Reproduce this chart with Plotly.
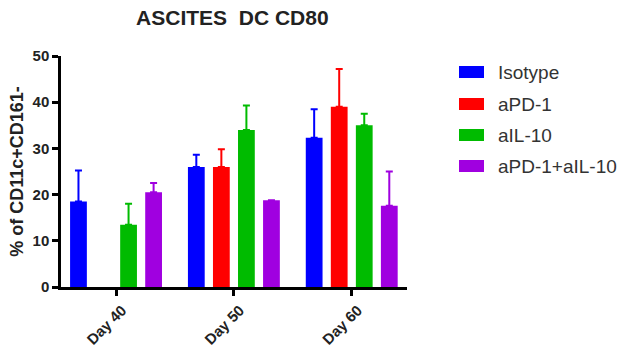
import plotly.graph_objects as go

days = ["Day 40", "Day 50", "Day 60"]
groups = ["Isotype", "aPD-1", "aIL-10", "aPD-1+aIL-10"]
colors = ["#0000FF", "#FF0000", "#00BB00", "#A000E0"]
means = {
    "Isotype": [18.5, 26.0, 32.3],
    "aPD-1": [None, 26.0, 39.0],
    "aIL-10": [13.5, 34.0, 35.0],
    "aPD-1+aIL-10": [20.5, 18.8, 17.6],
}
errors = {
    "Isotype": [6.7, 2.6, 6.2],
    "aPD-1": [0, 3.8, 8.2],
    "aIL-10": [4.5, 5.3, 2.5],
    "aPD-1+aIL-10": [2.0, 0, 7.4],
}

FONT = "Liberation Sans, Arial, sans-serif"

fig = go.Figure()
for g, c in zip(groups, colors):
    fig.add_trace(go.Bar(
        x=days, y=means[g], name=g, showlegend=False,
        marker=dict(color=c, line=dict(width=0)),
        error_y=dict(type="data", symmetric=False, array=errors[g],
                     arrayminus=[0, 0, 0], color=c, thickness=2, width=3.5),
    ))

# custom legend (wide swatches like the reference)
leg_rows_y = [0.9307, 0.7922, 0.6580, 0.5238]
shapes, annotations = [], []
for g, c, yy in zip(groups, colors, leg_rows_y):
    shapes.append(dict(type="rect", xref="paper", yref="paper",
                       x0=1.1503, x1=1.2225, y0=yy - 0.026, y1=yy + 0.026,
                       fillcolor=c, line=dict(width=0)))
    annotations.append(dict(text=g, xref="paper", yref="paper", x=1.258, y=yy,
                            xanchor="left", yanchor="middle", showarrow=False,
                            font=dict(family=FONT, size=19, color="#333")))

fig.update_layout(
    width=618, height=352,
    margin=dict(l=61, r=211, t=56, b=65, autoexpand=False),
    paper_bgcolor="white", plot_bgcolor="white",
    barmode="group", bargap=0.15, bargroupgap=0.33,
    title=dict(text="<b>ASCITES&nbsp; DC CD80</b>", x=0.376, xanchor="center",
               y=0.949, yanchor="middle",
               font=dict(family=FONT, size=21, color="#222")),
    font=dict(family=FONT, color="#222"),
    shapes=shapes, annotations=annotations,
    showlegend=False,
)
fig.update_yaxes(range=[0, 50], dtick=10, showline=True, linecolor="black",
                 linewidth=2.5, ticks="outside", ticklen=6, tickwidth=2.5,
                 tickcolor="black", showgrid=False, zeroline=False, automargin=False,
                 tickfont=dict(size=15, family=FONT, color="#222", weight="bold"),
                 title=dict(text="<b>% of CD11c+CD161-</b>", standoff=5,
                            font=dict(size=18, color="#222")))
fig.update_xaxes(range=[-0.467, 2.469], showline=True, linecolor="black", linewidth=2.5,
                 ticks="outside", ticklen=6, tickwidth=2.5, tickcolor="black",
                 tickangle=-45, showgrid=False, automargin=False,
                 ticklabelshift=6, ticklabelstandoff=0,
                 tickfont=dict(size=15, family=FONT, color="#222", weight="bold"))
fig.write_html("out.html")
